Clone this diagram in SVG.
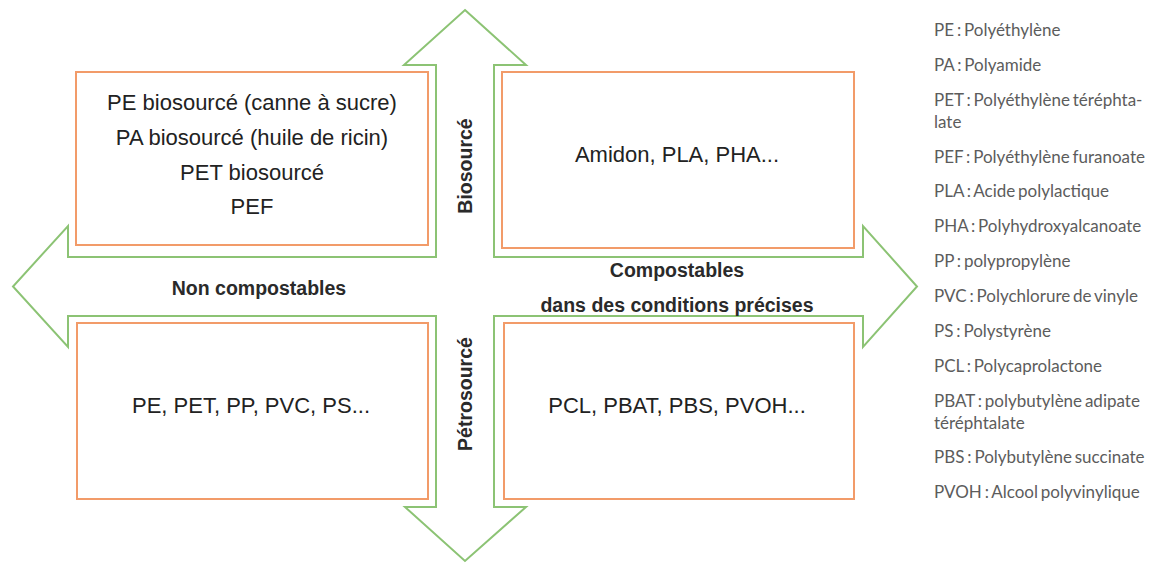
<svg xmlns="http://www.w3.org/2000/svg" width="1158" height="563" viewBox="0 0 1158 563">
<style>
.arrow{fill:none;stroke:#8cc374;stroke-width:2;stroke-linejoin:miter}
.box{fill:none;stroke:#f29b69;stroke-width:2}
.bt{font-family:"Liberation Sans",Arial,sans-serif;font-size:22px;fill:#222;text-anchor:middle}
.lbl{font-family:"Liberation Sans",Arial,sans-serif;font-size:19.5px;font-weight:bold;fill:#2a2a2a;text-anchor:middle}
.leg{font-family:Lato,"Open Sans",sans-serif;font-size:17px;fill:#5c5c5c;word-spacing:-1.5px}
</style>
<rect width="1158" height="563" fill="#fff"/>
<g id="connectors">
<polygon class="arrow" points="465,10 526,65 494,65 494,257 863,257 863,226 917,286.5 863,347 863,316 494,316 494,507 526,507 465,561 405,507 436,507 436,316 68,316 68,347 13,286.5 68,226 68,257 436,257 436,65 404,65"/>
<text class="lbl" x="259" y="295">Non compostables</text>
<text class="lbl" x="677" y="277">Compostables</text>
<text class="lbl" x="677" y="312">dans des conditions précises</text>
<text class="lbl" transform="translate(472,166) rotate(-90)">Biosourcé</text>
<text class="lbl" transform="translate(472,394) rotate(-90)">Pétrosourcé</text>
</g>
<g id="box-bio-noncompost">
<rect class="box" x="76" y="72" width="352" height="173"/>
<text class="bt" x="252" y="110">PE biosourcé (canne à sucre)</text>
<text class="bt" x="252" y="145">PA biosourcé (huile de ricin)</text>
<text class="bt" x="252" y="180">PET biosourcé</text>
<text class="bt" x="252" y="214">PEF</text>
</g>
<g id="box-bio-compost">
<rect class="box" x="502" y="72" width="352" height="176"/>
<text class="bt" x="677" y="162">Amidon, PLA, PHA...</text>
</g>
<g id="box-petro-noncompost">
<rect class="box" x="77" y="323" width="351" height="176"/>
<text class="bt" x="251" y="413">PE, PET, PP, PVC, PS...</text>
</g>
<g id="box-petro-compost">
<rect class="box" x="504" y="323" width="350" height="176"/>
<text class="bt" x="677" y="413">PCL, PBAT, PBS, PVOH...</text>
</g>
<g id="legend">
<text class="leg" x="934" y="36">PE : Polyéthylène</text>
<text class="leg" x="934" y="71">PA : Polyamide</text>
<text class="leg" x="934" y="106">PET : Polyéthylène téréphta-</text>
<text class="leg" x="934" y="128">late</text>
<text class="leg" x="934" y="163">PEF : Polyéthylène furanoate</text>
<text class="leg" x="934" y="197">PLA : Acide polylactique</text>
<text class="leg" x="934" y="232">PHA : Polyhydroxyalcanoate</text>
<text class="leg" x="934" y="267">PP : polypropylène</text>
<text class="leg" x="934" y="302">PVC : Polychlorure de vinyle</text>
<text class="leg" x="934" y="337">PS : Polystyrène</text>
<text class="leg" x="934" y="372">PCL : Polycaprolactone</text>
<text class="leg" x="934" y="407">PBAT : polybutylène adipate</text>
<text class="leg" x="934" y="429">téréphtalate</text>
<text class="leg" x="934" y="463">PBS : Polybutylène succinate</text>
<text class="leg" x="934" y="498">PVOH : Alcool polyvinylique</text>
</g>
</svg>
